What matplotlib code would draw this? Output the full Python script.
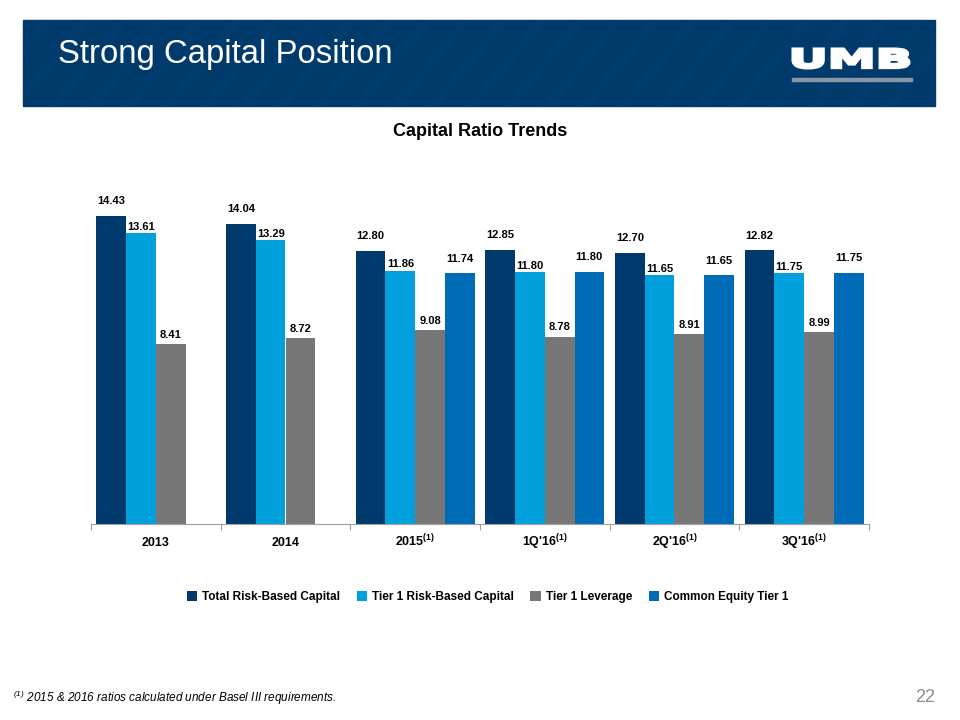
import numpy as np
import matplotlib
matplotlib.use("Agg")
import matplotlib.pyplot as plt
from matplotlib.patches import Rectangle, PathPatch
from matplotlib.textpath import TextPath
from matplotlib.font_manager import FontProperties
from matplotlib.transforms import Affine2D, IdentityTransform

plt.rcParams.update({
    "font.family": ["Liberation Sans", "DejaVu Sans"],
    "mathtext.fontset": "custom",
    "mathtext.rm": "Liberation Sans",
    "mathtext.it": "Liberation Sans:italic",
    "mathtext.bf": "Liberation Sans:bold",
})

periods = ["2013", "2014", "2015", "1Q'16", "2Q'16", "3Q'16"]
footnoted = [False, False, True, True, True, True]
series_names = ["Total Risk-Based Capital", "Tier 1 Risk-Based Capital",
                "Tier 1 Leverage", "Common Equity Tier 1"]
total_rbc = [14.43, 14.04, 12.80, 12.85, 12.70, 12.82]
tier1_rbc = [13.61, 13.29, 11.86, 11.80, 11.65, 11.75]
tier1_lev = [8.41, 8.72, 9.08, 8.78, 8.91, 8.99]
cet1 = [np.nan, np.nan, 11.74, 11.80, 11.65, 11.75]

COLORS = ["#003a6c", "#00a0dc", "#777777", "#006bb6"]
LABEL_PAD = [7, 1, 3, 7]  # points above bar top

W, H = 960, 720
fig = plt.figure(figsize=(9.6, 7.2), dpi=100)

# header banner with faint diagonal stripes
banner = Rectangle((23 / W, 1 - 106 / H), 912 / W, 86 / H,
                   transform=fig.transFigure, color="#003a6b", zorder=0)
fig.patches.append(banner)
for x0 in range(-60, 960, 38):
    ln = plt.Line2D([(x0) / W, (x0 + 70) / W], [1 - 106 / H, 1 - 20 / H],
                    transform=fig.transFigure, color="#0a4577", lw=6,
                    alpha=0.25, zorder=0.5)
    ln.set_clip_path(banner)
    fig.lines.append(ln)

fig.text(58 / W, 1 - 55 / H, "Strong Capital Position", color="white",
         fontsize=23.7, va="center", ha="left")

# UMB logo, text path stretched into its box
tp = TextPath((0, 0), "UMB", size=10,
              prop=FontProperties(family="DejaVu Sans", weight="bold"))
ext = tp.get_extents()
bx0, bx1, by0, by1 = 793, 909, H - 68, H - 49
tr = (Affine2D().translate(-ext.x0, -ext.y0)
      .scale((bx1 - bx0) / ext.width, (by1 - by0) / ext.height)
      .translate(bx0, by0))
fig.patches.append(PathPatch(tr.transform_path(tp), facecolor="white",
                             edgecolor="white", lw=2.2,
                             transform=IdentityTransform(), zorder=2))
fig.patches.append(Rectangle((792 / W, 1 - 81 / H), 120 / W, 3 / H,
                             transform=fig.transFigure, color="#8a96a8", zorder=2))

fig.text(0.5, 1 - 131 / H, "Capital Ratio Trends", fontsize=13,
         fontweight="bold", ha="center", va="center")

ax = fig.add_axes([91 / W, 1 - 524 / H, 778 / W, 363 / H])
x = np.arange(len(periods))
width = 0.229
all_series = [total_rbc, tier1_rbc, tier1_lev, cet1]
for i, vals in enumerate(all_series):
    pos = x + (i - 1.5) * width
    bars = ax.bar(pos, vals, width=width, color=COLORS[i], label=series_names[i],
                  zorder=2)
    for b, v in zip(bars, vals):
        if np.isnan(v):
            continue
        ax.annotate(f"{v:.2f}", (b.get_x() + b.get_width() / 2, v),
                    xytext=(0, LABEL_PAD[i]), textcoords="offset points",
                    ha="center", va="bottom", fontsize=8, fontweight="bold")

ax.set_xlim(-0.5, len(periods) - 0.5)
ax.set_ylim(0, 17)
ax.set_yticks([])
for s in ["top", "right", "left"]:
    ax.spines[s].set_visible(False)
ax.spines["bottom"].set_color("#a0a0a0")
ax.set_xticks(np.arange(-0.5, len(periods)), labels=[""] * (len(periods) + 1))
ax.tick_params(axis="x", which="major", length=4, color="#a0a0a0", direction="out")
labels = [(p + r"$^{\mathregular{(1)}}$") if f else p
          for p, f in zip(periods, footnoted)]
ax.set_xticks(x, labels=labels, minor=True)
ax.tick_params(axis="x", which="minor", length=0, pad=16, labelsize=9)
for t in ax.get_xticklabels(minor=True):
    t.set_fontweight("bold")
    t.set_verticalalignment("baseline")

fig.legend(loc="center", bbox_to_anchor=(0.508, 1 - 597 / H), ncol=4,
           frameon=False, handlelength=0.9, handleheight=0.9,
           handletextpad=0.4, columnspacing=1.4,
           prop={"weight": "bold", "size": 8.5})

fig.text(13 / W, 1 - 698 / H,
         r"$^{\mathregular{(1)}}$ 2015 & 2016 ratios calculated under Basel III requirements.",
         fontsize=8.5, style="italic", ha="left", va="center")
fig.text(935 / W, 1 - 697 / H, "22", fontsize=13, color="#8c8c8c",
         ha="right", va="center")

fig.savefig("out.png", dpi=100)
